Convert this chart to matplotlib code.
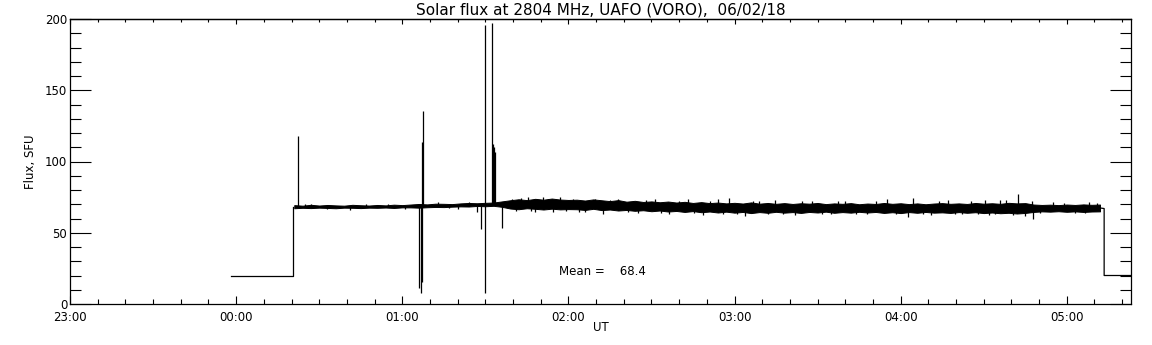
import numpy as np
import matplotlib.pyplot as plt
from matplotlib.ticker import MultipleLocator

# time axis in minutes after 00:00 UT
tick_pos = [-60, 0, 60, 120, 180, 240, 300]
tick_lab = ['23:00', '00:00', '01:00', '02:00', '03:00', '04:00', '05:00']

# receiver idle level before / after the session
t_pre = [-2.0, 20.5, 20.5]
f_pre = [20.0, 20.0, 68.0]
t_post = [312.0, 313.5, 313.5, 340.0]
f_post = [67.4, 67.0, 20.0, 20.0]

# envelope of the noisy trace, sampled every 3 min from 00:21 to 05:12
t_band = np.arange(21, 313, 3)
band_lo = [67.2, 67.5, 67.3, 67.6, 67.4, 67.2, 67.6, 67.5, 67.3, 67.6, 67.5, 67.7, 67.4, 67.8,
           67.8, 67.6, 67.9, 68.1, 68.0, 68.3, 68.5, 68.4, 68.8, 68.6, 68.9, 68.2,
           67.0, 66.5, 67.2, 66.8, 66.3, 66.9, 66.4, 66.6,
           66.5, 66.0, 66.8, 65.9, 66.3, 65.6, 66.0, 65.4, 65.8, 65.1,
           65.6, 64.9, 65.3, 64.6, 65.2, 64.4, 64.9, 64.2, 64.8, 64.1,
           64.6, 63.8, 64.5, 64.0, 64.7, 64.1, 64.5, 63.9, 64.6, 64.2,
           64.8, 64.0, 64.5, 64.1, 64.7, 64.2, 64.6, 63.9, 64.4, 63.8,
           64.5, 64.0, 64.6, 64.1, 64.3, 63.9, 64.5, 64.0, 64.4, 63.8,
           64.2, 63.7, 64.0, 63.5, 63.9, 64.6, 65.0, 64.8, 65.1, 64.7,
           65.0, 64.6, 64.9, 65.0]
band_hi = [69.4, 69.0, 69.6, 69.1, 69.5, 69.2, 69.0, 69.6, 69.3, 69.1, 69.5, 69.2, 69.7, 69.4,
           69.8, 70.2, 69.9, 70.4, 70.3, 70.1, 70.6, 70.9, 70.7, 71.0, 71.2, 72.0,
           72.8, 73.5, 72.9, 73.8, 73.2, 74.0, 73.3, 73.0,
           73.2, 72.6, 73.4, 72.8, 72.2, 72.9, 71.8, 72.4, 71.6, 72.0,
           71.4, 71.9, 71.2, 71.7, 70.9, 71.5, 70.8, 71.2, 70.6, 71.0,
           70.5, 71.3, 70.4, 70.9, 70.3, 70.8, 70.2, 70.7, 70.4, 70.9,
           70.1, 70.6, 70.3, 70.8, 70.0, 70.5, 70.2, 70.9, 70.3, 70.7,
           70.1, 70.6, 70.0, 70.5, 70.8, 70.3, 70.6, 70.2, 70.9, 70.4,
           70.7, 70.3, 71.0, 70.6, 70.8, 69.8, 69.5, 69.7, 69.4, 69.8,
           69.5, 69.9, 69.6, 69.8]

# single noise excursions sticking out of the band (time, tip)
t_noise = [25.0, 27.0, 33.0, 41.0, 47.0, 55.0, 61.0, 73.0, 77.0, 80.0, 84.0,
           99.5, 101.0, 103.0, 105.3, 106.5, 108.0, 110.7, 112.5, 114.3, 117.0, 119.0,
           121.6, 124.0, 126.0, 129.5, 132.4, 135.0, 138.0, 141.5, 145.0, 148.0,
           151.2, 153.5, 156.5, 160.0, 163.2, 165.5, 168.5, 171.0, 174.0, 176.0,
           178.0, 181.0, 183.7, 186.5, 189.0, 192.0, 194.6, 197.5, 201.8, 204.5,
           208.0, 211.5, 215.0, 217.5, 220.0, 224.0, 227.8, 231.0, 235.0, 238.5,
           242.6, 244.4, 248.0, 251.0, 254.0, 257.0, 259.5, 262.0, 265.5, 268.0,
           270.5, 272.0, 274.1, 276.0, 278.0, 280.5, 282.4, 285.0, 287.4, 287.8,
           290.5, 295.0, 299.0, 303.0, 306.5, 308.0, 311.0]
f_noise = [70.0, 70.3, 66.6, 66.2, 70.2, 70.5, 66.8, 71.3, 67.2, 67.0, 71.8,
           73.9, 65.2, 74.3, 75.3, 65.5, 64.9, 75.0, 73.9, 64.5, 74.8, 65.0,
           73.5, 64.8, 64.5, 73.4, 63.5, 73.0, 73.9, 64.3, 64.0, 72.8,
           74.0, 64.1, 63.0, 72.6, 74.0, 63.6, 62.5, 72.5, 73.7, 63.4,
           74.4, 63.2, 62.0, 72.3, 72.6, 63.3, 73.3, 63.0, 62.8, 72.2,
           72.4, 63.1, 63.0, 72.0, 72.6, 63.4, 63.0, 72.5, 73.5, 63.2,
           61.3, 74.6, 63.0, 62.6, 72.3, 72.7, 63.4, 63.1, 72.4, 62.9,
           73.0, 62.4, 63.0, 72.8, 72.9, 62.5, 77.0, 62.0, 72.5, 59.4,
           63.6, 71.4, 71.2, 63.7, 63.9, 71.5, 71.0]

# interference spikes (time, bottom, top)
t_spk = [22.3, 66.0, 66.9, 67.3, 67.6, 86.9, 88.4, 89.9, 92.4, 92.8, 93.1, 93.4, 96.1]
f_spk_lo = [68.0, 11.0, 8.0, 15.6, 68.0, 64.5, 52.4, 8.0, 70.0, 70.0, 70.0, 70.0, 53.5]
f_spk_hi = [118.0, 68.0, 68.0, 113.7, 135.4, 70.0, 70.0, 196.0, 197.0, 112.0, 110.0, 107.0, 70.0]

mean_flux = 68.4

fig = plt.figure(figsize=(11.52, 3.45), dpi=100)
ax = fig.add_axes([70 / 1152, 41 / 345, 1061 / 1152, 285 / 345])

ax.plot(t_pre, f_pre, color='black', lw=0.9)
ax.plot(t_post, f_post, color='black', lw=0.9)
ax.fill_between(t_band, band_lo, band_hi, color='black', lw=0.7)
band_mid = np.interp(t_noise, t_band, (np.array(band_lo) + np.array(band_hi)) / 2)
ax.vlines(t_noise, band_mid, f_noise, color='black', lw=0.9)
ax.vlines(t_spk, f_spk_lo, f_spk_hi, color='black', lw=0.9)

ax.text(116.5, 22.5, 'Mean =    %.1f' % mean_flux, fontsize=8.5, va='center', ha='left')

ax.set_xlim(-60, 323.2)
ax.set_ylim(0, 200)
ax.set_xticks(tick_pos)
ax.set_xticklabels(tick_lab)
ax.xaxis.set_minor_locator(MultipleLocator(10))
ax.yaxis.set_major_locator(MultipleLocator(50))
ax.yaxis.set_minor_locator(MultipleLocator(10))

ax.tick_params(axis='both', which='both', direction='in', labelsize=8.5, width=0.8)
ax.tick_params(axis='x', which='major', length=5.8, pad=5)
ax.tick_params(axis='x', which='minor', length=3.6)
ax.tick_params(axis='y', which='major', length=14.9, pad=2, right=True)
ax.tick_params(axis='y', which='minor', length=7.9, right=True)

top = ax.secondary_xaxis('top')
top.set_xticks(tick_pos)
top.set_xticklabels([])
top.xaxis.set_minor_locator(MultipleLocator(10))
top.tick_params(which='major', direction='in', length=3.6, width=0.8)
top.tick_params(which='minor', direction='in', length=2.2, width=0.8)
top.spines['top'].set_linewidth(0.9)

for s in ax.spines.values():
    s.set_linewidth(0.9)

ax.set_title('Solar flux at 2804 MHz, UAFO (VORO),  06/02/18', fontsize=11, pad=3)
ax.set_xlabel('UT', fontsize=8.5, va='center')
ax.xaxis.set_label_coords(0.5, -0.084)
ax.set_ylabel('Flux, SFU', fontsize=8.5, va='center')
ax.yaxis.set_label_coords(-0.0377, 0.5)

fig.savefig('out.png', dpi=100)
